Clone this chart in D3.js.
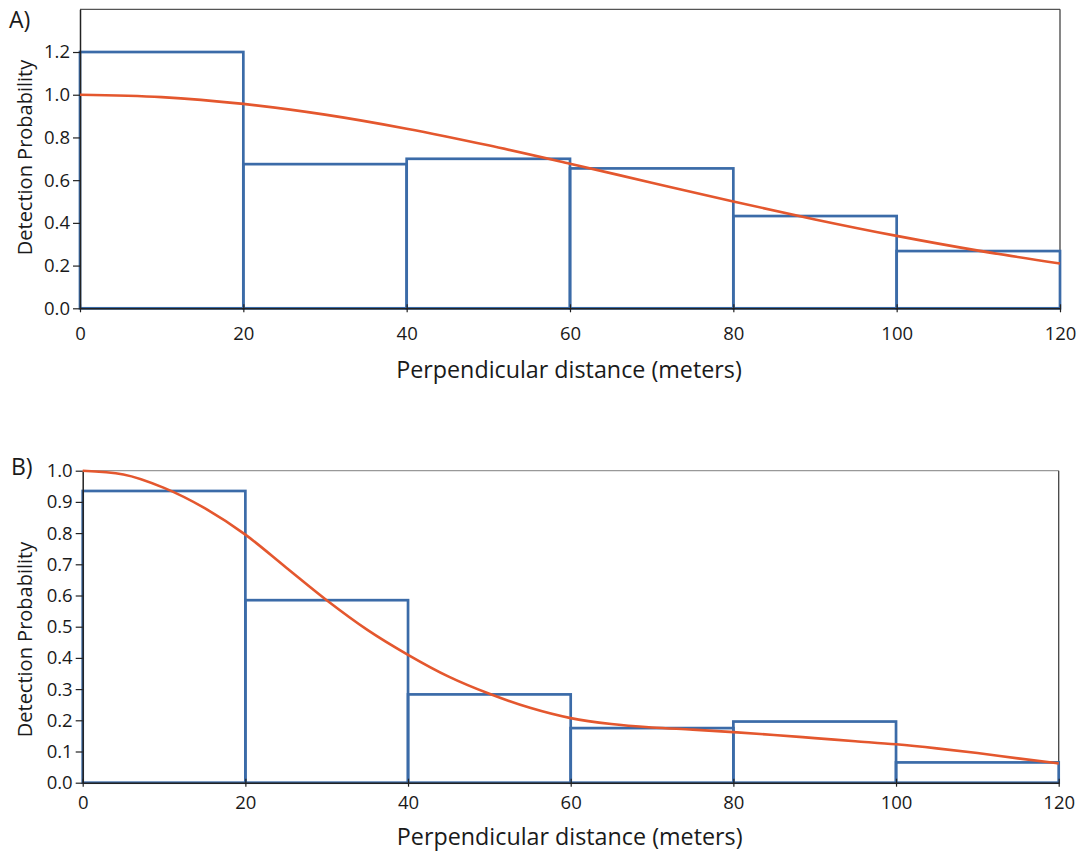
<!DOCTYPE html>
<html>
<head>
<meta charset="utf-8">
<script src="https://cdn.jsdelivr.net/npm/d3@7"></script>
<style>
  body { margin: 0; background: #fff; }
  svg { display: block; font-family: "Open Sans", sans-serif; }
</style>
</head>
<body>
<div id="chart"></div>
<script>
// Data
const binEdges = [0, 20, 40, 60, 80, 100, 120];
const barsA = [1.2, 0.675, 0.70, 0.655, 0.432, 0.268];
const barsB = [0.935, 0.585, 0.283, 0.175, 0.196, 0.065];

const curveXA = [0, 10, 20, 30, 40, 50, 60, 70, 80, 90, 100, 110, 120];
const curveYA = [1.0, 0.989, 0.957, 0.907, 0.841, 0.763, 0.677, 0.588, 0.500, 0.416, 0.339, 0.270, 0.210];

const curveXB = [0, 5, 10, 15, 20, 25, 30, 35, 40, 45, 50, 55, 60, 65, 70, 75, 80, 85, 90, 95, 100, 105, 110, 115, 120];
const curveYB = [1.0, 0.988, 0.945, 0.88, 0.795, 0.69, 0.585, 0.49, 0.41, 0.34, 0.285, 0.24, 0.207, 0.188, 0.177, 0.17, 0.162, 0.153, 0.143, 0.133, 0.123, 0.11, 0.095, 0.078, 0.062];

const ticksX = [0, 20, 40, 60, 80, 100, 120];
const ticksYA = [0, 0.2, 0.4, 0.6, 0.8, 1.0, 1.2];
const ticksYB = [0, 0.1, 0.2, 0.3, 0.4, 0.5, 0.6, 0.7, 0.8, 0.9, 1.0];

const xTitle = "Perpendicular distance (meters)";
const yTitle = "Detection Probability";

// Canvas
const width = 1077;
const height = 857;
const blue = "#3b6ba8";
const orange = "#e4572e";

const svg = d3.select("#chart").append("svg")
    .attr("width", width)
    .attr("height", height)
    .attr("viewBox", [0, 0, width, height]);

// panel layout (pixels)
const panels = [
  { label: "A)", lx: 9, ly: 28, left: 80, right: 1060, top: 9.3, bottom: 308.3, yMax: 1.4,
    bars: barsA, cx: curveXA, cy: curveYA, yTicks: ticksYA, tickPad: 15, titleOff: 70, yMid: 157.5, frame: "#555" },
  { label: "B)", lx: 11, ly: 475, left: 82.7, right: 1058.7, top: 470.7, bottom: 782.7, yMax: 1.0,
    bars: barsB, cx: curveXB, cy: curveYB, yTicks: ticksYB, tickPad: 9, titleOff: 62, yMid: 639.5, frame: "#999" }
];

panels.forEach(p => {
  const x = d3.scaleLinear([0, 120], [p.left, p.right]);
  const y = d3.scaleLinear([0, p.yMax], [p.bottom, p.top]);
  const g = svg.append("g");

  // frame top & right
  g.append("line")
      .attr("x1", x(0)).attr("x2", x(120))
      .attr("y1", y(p.yMax)).attr("y2", y(p.yMax))
      .attr("stroke", p.frame).attr("stroke-width", 1.3);
  g.append("line")
      .attr("x1", x(120)).attr("x2", x(120))
      .attr("y1", y(p.yMax)).attr("y2", y(0))
      .attr("stroke", "#444").attr("stroke-width", 1.3);

  // histogram bars (outlines)
  g.append("g")
    .selectAll("rect")
    .data(p.bars)
    .join("rect")
      .attr("x", (d, i) => x(binEdges[i]))
      .attr("width", (d, i) => x(binEdges[i + 1]) - x(binEdges[i]))
      .attr("y", d => y(d))
      .attr("height", d => y(0) - y(d))
      .attr("fill", "none")
      .attr("stroke", blue)
      .attr("stroke-width", 2.7);

  // axes
  g.append("g")
      .attr("transform", `translate(0,${p.bottom})`)
      .call(d3.axisBottom(x).tickValues(ticksX).tickSizeInner(4).tickSizeOuter(0).tickPadding(p.tickPad))
      .call(a => a.select(".domain").attr("stroke", "#222").attr("stroke-width", 1.5))
      .call(a => a.selectAll(".tick line").attr("y1", -4).attr("stroke", "#222").attr("stroke-width", 1.2))
      .call(a => a.selectAll(".tick text").attr("font-size", 18.5).attr("font-family", "Open Sans").attr("fill", "#1a1a1a"));

  g.append("g")
      .attr("transform", `translate(${p.left},0)`)
      .call(d3.axisLeft(y).tickValues(p.yTicks).tickFormat(d3.format(".1f")).tickSizeInner(7).tickSizeOuter(0).tickPadding(3))
      .call(a => a.select(".domain").attr("stroke", "#222").attr("stroke-width", 1.5))
      .call(a => a.selectAll(".tick line").attr("stroke", "#222").attr("stroke-width", 1.2))
      .call(a => a.selectAll(".tick text").attr("font-size", 18.5).attr("font-family", "Open Sans").attr("fill", "#1a1a1a"));

  // fitted detection curve
  const line = d3.line()
      .x(d => x(d[0]))
      .y(d => y(d[1]))
      .curve(d3.curveMonotoneX);

  g.append("path")
      .attr("fill", "none")
      .attr("stroke", orange)
      .attr("stroke-width", 2.6)
      .attr("d", line(d3.zip(p.cx, p.cy)));

  // titles
  g.append("text")
      .attr("x", (p.left + p.right) / 2 - 1)
      .attr("y", p.bottom + p.titleOff)
      .attr("text-anchor", "middle")
      .attr("font-size", 23.3)
      .attr("fill", "#1a1a1a")
      .text(xTitle);

  g.append("text")
      .attr("transform", `translate(32,${p.yMid}) rotate(-90)`)
      .attr("text-anchor", "middle")
      .attr("font-size", 20)
      .attr("fill", "#1a1a1a")
      .text(yTitle);

  g.append("text")
      .attr("x", p.lx)
      .attr("y", p.ly)
      .attr("font-size", 23)
      .attr("fill", "#1a1a1a")
      .text(p.label);
});
</script>
</body>
</html>
